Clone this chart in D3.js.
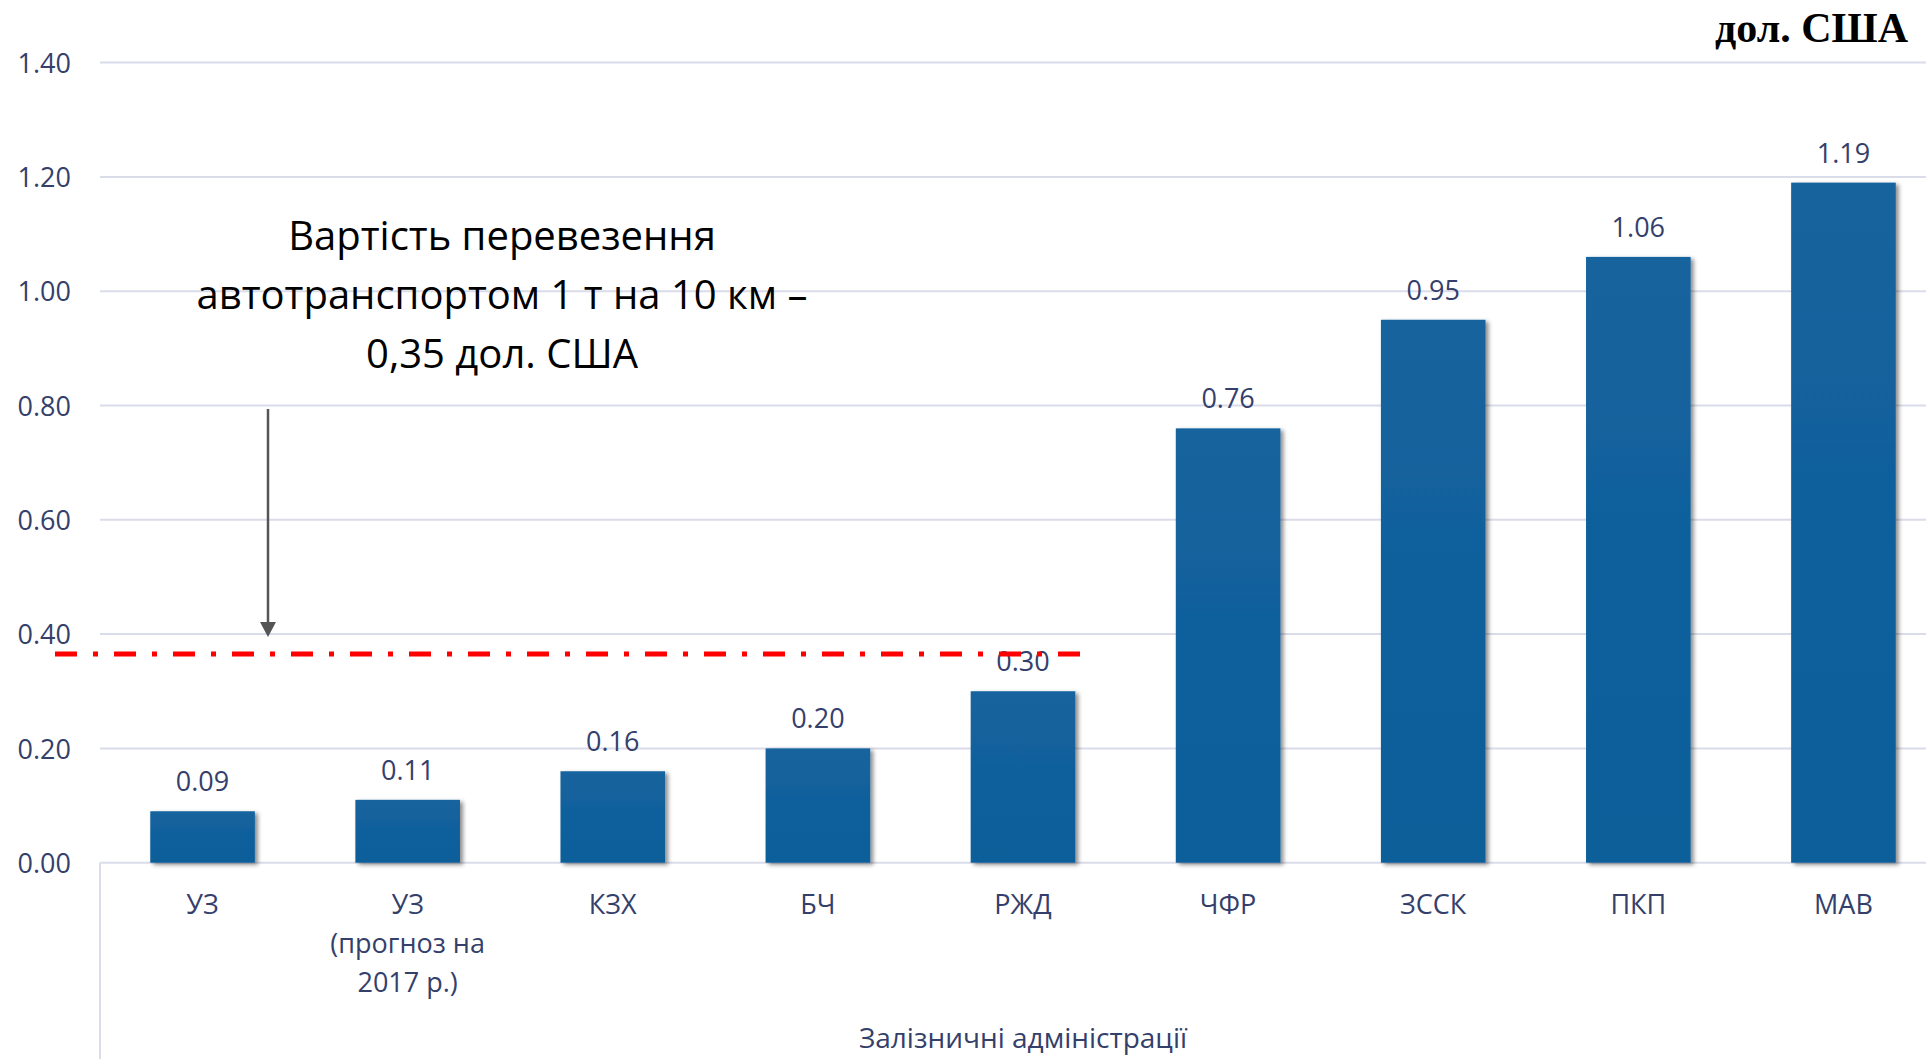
<!DOCTYPE html>
<html>
<head>
<meta charset="utf-8">
<script src="https://cdn.jsdelivr.net/npm/d3@7"></script>
<style>
  html, body { margin: 0; padding: 0; background: #fff; }
  svg { display: block; }
</style>
</head>
<body>
<div id="chart"></div>
<script>
// railway administrations and cost of carrying 1 t over 10 km, USD
const categories = ["УЗ", "УЗ\n(прогноз на\n2017 р.)", "КЗХ", "БЧ", "РЖД", "ЧФР", "ЗССК", "ПКП", "МАВ"];
const values = [0.09, 0.11, 0.16, 0.20, 0.30, 0.76, 0.95, 1.06, 1.19];
const yTicks = [0, 0.2, 0.4, 0.6, 0.8, 1.0, 1.2, 1.4];
const truckCost = 0.365; // level of red dash-dot line as drawn
const noteLines = ["Вартість перевезення", "автотранспортом 1 т на 10 км –", "0,35 дол. США"];
const unitLabel = "дол. США";
const axisTitle = "Залізничні адміністрації";

const W = 1926, H = 1059;
const mLeft = 100, mRight = 1946, mTop = 62.6, mBottom = 862.7;
const font = "'Open Sans', 'Noto Sans', sans-serif";
const navy = "#34406b";

const svg = d3.select("#chart").append("svg")
  .attr("width", W).attr("height", H);

const defs = svg.append("defs");
const grad = defs.append("linearGradient").attr("id", "barGrad")
  .attr("x1", 0).attr("y1", 0).attr("x2", 0).attr("y2", 1);
grad.append("stop").attr("offset", "0%").attr("stop-color", "#14639e");
grad.append("stop").attr("offset", "100%").attr("stop-color", "#0d5e9a");
defs.append("filter").attr("id", "shadow")
  .attr("x", "-10%").attr("y", "-10%").attr("width", "130%").attr("height", "130%")
  .append("feDropShadow")
  .attr("dx", 3).attr("dy", 2).attr("stdDeviation", 2)
  .attr("flood-color", "#000").attr("flood-opacity", 0.45);

const x = d3.scaleBand().domain(d3.range(categories.length))
  .range([mLeft, mRight]).paddingInner(0.49).paddingOuter(0.245);
const y = d3.scaleLinear().domain([0, 1.4]).range([mBottom, mTop]);

// gridlines
svg.append("g").selectAll("line")
  .data(yTicks).enter().append("line")
  .attr("x1", mLeft).attr("x2", W)
  .attr("y1", d => y(d)).attr("y2", d => y(d))
  .attr("stroke", "#dadcea").attr("stroke-width", 2);

// left axis line below zero (category area frame)
svg.append("line")
  .attr("x1", mLeft).attr("x2", mLeft)
  .attr("y1", y(0)).attr("y2", H)
  .attr("stroke", "#dadcea").attr("stroke-width", 2);

// y axis labels
const yAxis = svg.append("g")
  .attr("transform", "translate(" + (mLeft - 29) + ",0)")
  .call(d3.axisLeft(y).tickValues(yTicks).tickFormat(d3.format(".2f")).tickSize(0).tickPadding(0));
yAxis.select(".domain").remove();
yAxis.selectAll("text")
  .attr("fill", navy)
  .style("font-family", font).style("font-size", "27px")
  .attr("dy", "0.36em");

// bars
svg.append("g").selectAll("rect")
  .data(values).enter().append("rect")
  .attr("x", (d, i) => x(i))
  .attr("width", x.bandwidth())
  .attr("y", d => y(d))
  .attr("height", d => y(0) - y(d))
  .attr("fill", "url(#barGrad)")
  .attr("filter", "url(#shadow)");

// value labels
svg.append("g").selectAll("text")
  .data(values).enter().append("text")
  .attr("x", (d, i) => x(i) + x.bandwidth() / 2)
  .attr("y", d => y(d) - 20)
  .attr("text-anchor", "middle")
  .attr("fill", navy)
  .style("font-family", font).style("font-size", "27px")
  .text(d => d3.format(".2f")(d));

// category labels
const cat = svg.append("g").selectAll("text")
  .data(categories).enter().append("text")
  .attr("text-anchor", "middle")
  .attr("fill", navy)
  .style("font-family", font).style("font-size", "27px");
cat.each(function(d, i) {
  const t = d3.select(this);
  d.split("\n").forEach((s, k) => {
    t.append("tspan")
      .attr("x", x(i) + x.bandwidth() / 2)
      .attr("y", 914 + k * 39)
      .text(s);
  });
});

// axis title
svg.append("text")
  .attr("x", (mLeft + mRight) / 2).attr("y", 1048)
  .attr("text-anchor", "middle")
  .attr("fill", navy)
  .style("font-family", font).style("font-size", "28px")
  .text(axisTitle);

// red dash-dot line for truck transport cost
svg.append("line")
  .attr("x1", 55).attr("x2", x(4) + x.bandwidth() + 17)
  .attr("y1", y(truckCost)).attr("y2", y(truckCost))
  .attr("stroke", "#ff0000").attr("stroke-width", 5)
  .attr("stroke-dasharray", "22,16,5,16");

// note text
svg.append("g").selectAll("text")
  .data(noteLines).enter().append("text")
  .attr("x", 502)
  .attr("y", (d, i) => 250 + i * 59)
  .attr("text-anchor", "middle")
  .attr("fill", "#000")
  .style("font-family", font).style("font-size", "40px")
  .text(d => d);

// arrow pointing to the line
const ax = 268;
svg.append("line")
  .attr("x1", ax).attr("x2", ax)
  .attr("y1", 409).attr("y2", 624)
  .attr("stroke", "#555").attr("stroke-width", 2.5);
svg.append("path")
  .attr("d", d3.line()([[ax - 8, 622], [ax + 8, 622], [ax, 637]]) + "Z")
  .attr("fill", "#555");

// unit label
svg.append("text")
  .attr("x", 1908).attr("y", 42)
  .attr("text-anchor", "end")
  .attr("fill", "#000")
  .style("font-family", "'Liberation Serif', 'Times New Roman', serif")
  .style("font-weight", "bold").style("font-size", "42px")
  .text(unitLabel);
</script>
</body>
</html>
